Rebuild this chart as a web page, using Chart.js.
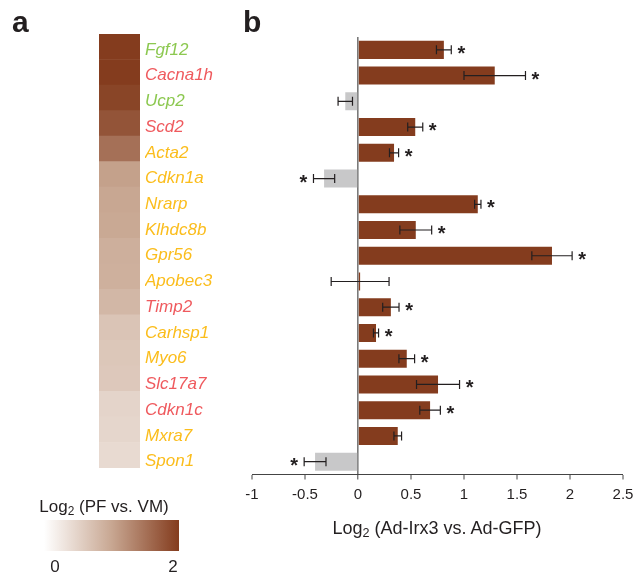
<!DOCTYPE html>
<html><head><meta charset="utf-8">
<script src="https://cdn.jsdelivr.net/npm/chart.js@4.4.0/dist/chart.umd.min.js"></script>
<style>
html,body{margin:0;padding:0;background:#fff;}
#wrap{position:relative;width:634px;height:576px;overflow:hidden;font-family:"Liberation Sans",Arial,Helvetica,sans-serif;color:#231f20;}
.abs{position:absolute;}
.panel{position:absolute;font-weight:bold;font-size:30px;line-height:30px;}
.txt{position:absolute;white-space:nowrap;line-height:1;}
sub{font-size:70%;vertical-align:-0.25em;line-height:0;}
</style></head><body>
<div id="wrap">
  <canvas id="heat" class="abs" width="41" height="434" style="left:99px;top:34px;width:41px;height:434px"></canvas>
  <canvas id="bars" class="abs" width="634" height="576" style="left:0;top:0;width:634px;height:576px"></canvas>
  <div class="panel" style="left:12px;top:7px">a</div>
  <div class="panel" style="left:243px;top:7px">b</div>
  <div class="txt" id="xtitle" style="left:437px;top:519px;font-size:18px;transform:translateX(-50%)">Log<sub>2</sub> (Ad-Irx3 vs. Ad-GFP)</div>
  <div class="txt" style="left:104px;top:498px;font-size:17px;transform:translateX(-50%)">Log<sub>2</sub> (PF vs. VM)</div>
  <div id="cbar" class="abs" style="left:44px;top:520px;width:135px;height:31px"></div>
  <div class="txt" id="cmin" style="left:55px;top:558px;font-size:17px;transform:translateX(-50%)"></div>
  <div class="txt" id="cmax" style="left:173px;top:558px;font-size:17px;transform:translateX(-50%)"></div>
</div>
<script>
// ---- data ----
const genes = ["Fgf12","Cacna1h","Ucp2","Scd2","Acta2","Cdkn1a","Nrarp","Klhdc8b","Gpr56","Apobec3","Timp2","Carhsp1","Myo6","Slc17a7","Cdkn1c","Mxra7","Spon1"];
const geneGroup = ["green","red","green","red","yellow","yellow","yellow","yellow","yellow","yellow","red","yellow","yellow","red","red","yellow","yellow"];
const heatValues = [2.0,2.0,1.92,1.78,1.51,1.06,1.0,0.98,0.91,0.9,0.82,0.67,0.64,0.62,0.49,0.47,0.42];
const fcValues = [0.81,1.29,-0.12,0.54,0.34,-0.32,1.13,0.545,1.83,0.02,0.31,0.17,0.46,0.755,0.68,0.375,-0.405];
const fcErrors = [0.07,0.29,0.068,0.071,0.043,0.10,0.03,0.15,0.19,0.273,0.077,0.024,0.074,0.203,0.097,0.036,0.103];
const significant = [1,1,0,1,1,1,1,1,1,0,1,1,1,1,1,0,1];
const xTicks = [-1,-0.5,0,0.5,1,1.5,2,2.5];
const heatRange = [0,2];

// ---- styles ----
const groupColors = {green:"#8cc850", red:"#ef5a5e", yellow:"#fbbd1c"};
const posColor = "#843c1e", negColor = "#c8c8c9", inkColor = "#231f20";
const FONT = "'Liberation Sans', Arial, Helvetica, sans-serif";
const cmapStops = [[0,[255,255,255]],[0.5,[200,167,146]],[1,[132,60,30]]];
function cmap(v){
  let t=(v-heatRange[0])/(heatRange[1]-heatRange[0]); t=Math.max(0,Math.min(1,t));
  for(let i=1;i<cmapStops.length;i++){
    const [t0,c0]=cmapStops[i-1],[t1,c1]=cmapStops[i];
    if(t<=t1){const f=(t-t0)/(t1-t0);return `rgb(${c0.map((c,k)=>Math.round(c+(c1[k]-c)*f)).join(',')})`;}
  }
  return `rgb(${cmapStops[cmapStops.length-1][1].join(',')})`;
}
document.getElementById('cbar').style.background='linear-gradient(to right,'+cmapStops.map(s=>`rgb(${s[1].join(',')}) ${s[0]*100}%`).join(',')+')';
document.getElementById('cmin').textContent=String(heatRange[0]);
document.getElementById('cmax').textContent=String(heatRange[1]);

Chart.defaults.font.family = FONT;
Chart.defaults.color = inkColor;

// ---- heatmap (panel a) ----
new Chart(document.getElementById('heat'),{
  type:'bar',
  data:{labels:genes,datasets:[{data:heatValues.map(()=>[0,1]),backgroundColor:heatValues.map(cmap),borderWidth:0,barPercentage:1,categoryPercentage:1}]},
  options:{indexAxis:'y',responsive:false,animation:false,devicePixelRatio:1,
    layout:{padding:0},
    plugins:{legend:{display:false},tooltip:{enabled:false}},
    scales:{x:{display:false,min:0,max:1},y:{display:false}}}
});

// ---- error bars & stars ----
const errPlugin={
  id:'err',
  afterDatasetsDraw(chart){
    const ctx=chart.ctx, xs=chart.scales.x, meta=chart.getDatasetMeta(0);
    ctx.save();
    ctx.strokeStyle=inkColor; ctx.lineWidth=1.2;
    ctx.font="bold 20px "+FONT; ctx.fillStyle=inkColor; ctx.textAlign='center';
    const m=ctx.measureText('*');
    const off=(m.actualBoundingBoxDescent-m.actualBoundingBoxAscent)/2;
    fcValues.forEach((v,i)=>{
      const y=meta.data[i].y;
      const lo=xs.getPixelForValue(v-fcErrors[i]), hi=xs.getPixelForValue(v+fcErrors[i]);
      ctx.beginPath();
      ctx.moveTo(lo,y);ctx.lineTo(hi,y);
      ctx.moveTo(lo,y-4.5);ctx.lineTo(lo,y+4.5);
      ctx.moveTo(hi,y-4.5);ctx.lineTo(hi,y+4.5);
      ctx.stroke();
      if(significant[i]){
        const sx = v>=0 ? hi+10 : lo-10;
        ctx.fillText('*',sx,y-off);
      }
    });
    ctx.restore();
  }
};

// ---- bar chart (panel b) ----
new Chart(document.getElementById('bars'),{
  type:'bar',
  data:{labels:genes,datasets:[{data:fcValues,backgroundColor:fcValues.map(v=>v>=0?posColor:negColor),borderWidth:0,barPercentage:0.7,categoryPercentage:1}]},
  options:{indexAxis:'y',responsive:false,animation:false,devicePixelRatio:1,
    layout:{padding:{left:145,right:11,top:37,bottom:71.5}},
    plugins:{legend:{display:false},tooltip:{enabled:false}},
    scales:{
      x:{type:'linear',min:xTicks[0],max:xTicks[xTicks.length-1],
        afterBuildTicks(s){s.ticks=xTicks.map(v=>({value:v}));},
        afterFit(s){s.height=30;s.paddingLeft=0;s.paddingRight=0;},
        grid:{drawOnChartArea:true,drawTicks:true,tickLength:5,tickColor:'#444',tickWidth:1,
          color:c=>(c.tick&&c.tick.value===0)?'#7a7a7a':'rgba(0,0,0,0)',lineWidth:c=>(c.tick&&c.tick.value===0)?1.6:0},
        border:{display:true,color:'#444',width:1},
        ticks:{padding:6,font:{size:15},color:inkColor,maxRotation:0,autoSkip:false,callback:v=>String(v)}},
      y:{position:'left',
        afterFit(s){s.width=107;},
        grid:{display:false,drawTicks:false},border:{display:false},
        ticks:{crossAlign:'far',padding:0,font:{size:17,style:'italic'},color:c=>groupColors[geneGroup[c.index]]}}
    }},
  plugins:[errPlugin]
});
</script>
</body></html>
